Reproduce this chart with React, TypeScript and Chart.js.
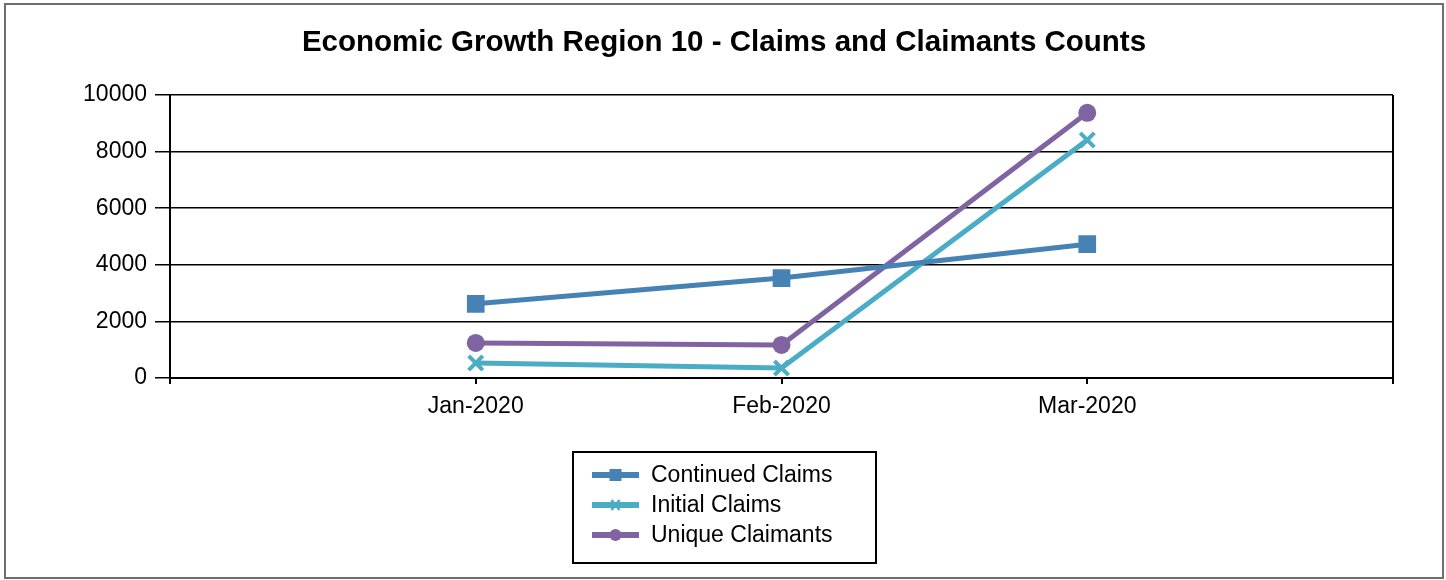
import React, { useEffect, useRef } from "react";
import { Chart, registerables } from "chart.js";

Chart.register(...registerables);

const categories = ["", "Jan-2020", "Feb-2020", "Mar-2020", ""];
const continuedClaims = [null, 2620, 3530, 4730, null];
const initialClaims = [null, 530, 350, 8410, null];
const uniqueClaimants = [null, 1240, 1170, 9370, null];
const yTicks = { min: 0, max: 10000, step: 2000 };
const titleText = "Economic Growth Region 10 - Claims and Claimants Counts";

const FONT = "'Liberation Sans', Arial, sans-serif";

const framePlugin = {
  id: "frame",
  beforeDraw(chart: any) {
    const { ctx, width, height } = chart;
    ctx.save();
    ctx.fillStyle = "#fff";
    ctx.fillRect(0, 0, width, height);
    ctx.strokeStyle = "#6e6e6e";
    ctx.lineWidth = 2;
    ctx.strokeRect(5, 4, width - 8, height - 6);
    ctx.fillStyle = "#000";
    ctx.font = `bold 29.5px ${FONT}`;
    ctx.textAlign = "center";
    ctx.textBaseline = "alphabetic";
    ctx.fillText(titleText, width / 2 + 1, 51);
    ctx.restore();
  },
  afterDraw(chart: any) {
    const { ctx, chartArea, width } = chart;
    ctx.save();
    // right border of plot area
    ctx.strokeStyle = "#000";
    ctx.lineWidth = 2;
    ctx.beginPath();
    ctx.moveTo(chartArea.right, chartArea.top);
    ctx.lineTo(chartArea.right, chartArea.bottom + 6);
    ctx.stroke();

    // legend
    const boxW = 303;
    const boxH = 111;
    const cx = width / 2 + 1;
    const bx = Math.round(cx - boxW / 2);
    const by = 452;
    ctx.lineWidth = 2;
    ctx.strokeStyle = "#000";
    ctx.strokeRect(bx, by, boxW, boxH);
    const rowH = 30;
    ctx.font = `23px ${FONT}`;
    ctx.textBaseline = "middle";
    ctx.textAlign = "left";
    chart.data.datasets.forEach((ds: any, i: number) => {
      const y = by + 23 + i * rowH;
      const x0 = bx + 19;
      const x1 = bx + 66;
      const mx = (x0 + x1) / 2;
      ctx.strokeStyle = ds.borderColor;
      ctx.fillStyle = ds.borderColor;
      ctx.lineWidth = 6;
      ctx.beginPath();
      ctx.moveTo(x0, y);
      ctx.lineTo(x1, y);
      ctx.stroke();
      if (ds.pointStyle === "rect") {
        ctx.fillRect(mx - 6, y - 6, 12, 12);
      } else if (ds.pointStyle === "circle") {
        ctx.beginPath();
        ctx.arc(mx, y, 6, 0, Math.PI * 2);
        ctx.fill();
      } else {
        ctx.lineWidth = 2.5;
        ctx.beginPath();
        ctx.moveTo(mx - 4, y - 5);
        ctx.lineTo(mx + 4, y + 5);
        ctx.moveTo(mx + 4, y - 5);
        ctx.lineTo(mx - 4, y + 5);
        ctx.stroke();
      }
      ctx.fillStyle = "#000";
      ctx.fillText(ds.label, bx + 78, y + 1);
    });
    ctx.restore();
  },
};

export default function App() {
  const ref = useRef<HTMLCanvasElement | null>(null);
  useEffect(() => {
    document.body.style.margin = "0";
    const canvas = ref.current!;
    const chart = new Chart(canvas, {
      type: "line",
      data: {
        labels: categories,
        datasets: [
          {
            label: "Continued Claims",
            data: continuedClaims,
            borderColor: "#4682B4",
            backgroundColor: "#4682B4",
            borderWidth: 5,
            pointStyle: "rect",
            pointRadius: 12.5,
            pointBorderWidth: 0,
            tension: 0,
          },
          {
            label: "Initial Claims",
            data: initialClaims,
            borderColor: "#4BACC6",
            backgroundColor: "#4BACC6",
            borderWidth: 5,
            pointStyle: "crossRot",
            pointRadius: 10,
            pointBorderWidth: 4,
            tension: 0,
          },
          {
            label: "Unique Claimants",
            data: uniqueClaimants,
            borderColor: "#8064A2",
            backgroundColor: "#8064A2",
            borderWidth: 5,
            pointStyle: "circle",
            pointRadius: 9,
            pointBorderWidth: 0,
            tension: 0,
          },
        ],
      },
      options: {
        animation: false,
        responsive: false,
        devicePixelRatio: 1,
        layout: { padding: { left: 0, right: 53, top: 95, bottom: 0 } },
        plugins: {
          legend: { display: false },
          title: { display: false },
          tooltip: { enabled: false },
        },
        scales: {
          x: {
            offset: false,
            grid: {
              display: true,
              drawOnChartArea: false,
              drawTicks: true,
              tickLength: 6,
              color: "#000",
              lineWidth: 2,
            },
            border: { display: true, color: "#000", width: 2 },
            ticks: {
              color: "#000",
              font: { family: FONT, size: 23 },
              padding: 9,
              autoSkip: false,
              maxRotation: 0,
            },
            afterFit(scale: any) {
              scale.height = 202;
            },
          },
          y: {
            min: yTicks.min,
            max: yTicks.max,
            grid: {
              color: "#000",
              lineWidth: 1.5,
              drawTicks: true,
              tickLength: 15,
            },
            border: { display: true, color: "#000", width: 2 },
            ticks: {
              stepSize: yTicks.step,
              color: "#000",
              font: { family: FONT, size: 23 },
              padding: 8,
              callback: (v: any) => String(v),
            },
            afterFit(scale: any) {
              scale.width = 170;
            },
          },
        },
      },
      plugins: [framePlugin],
    });
    return () => chart.destroy();
  }, []);
  return <canvas ref={ref} width={1446} height={580} style={{ display: "block" }} />;
}
